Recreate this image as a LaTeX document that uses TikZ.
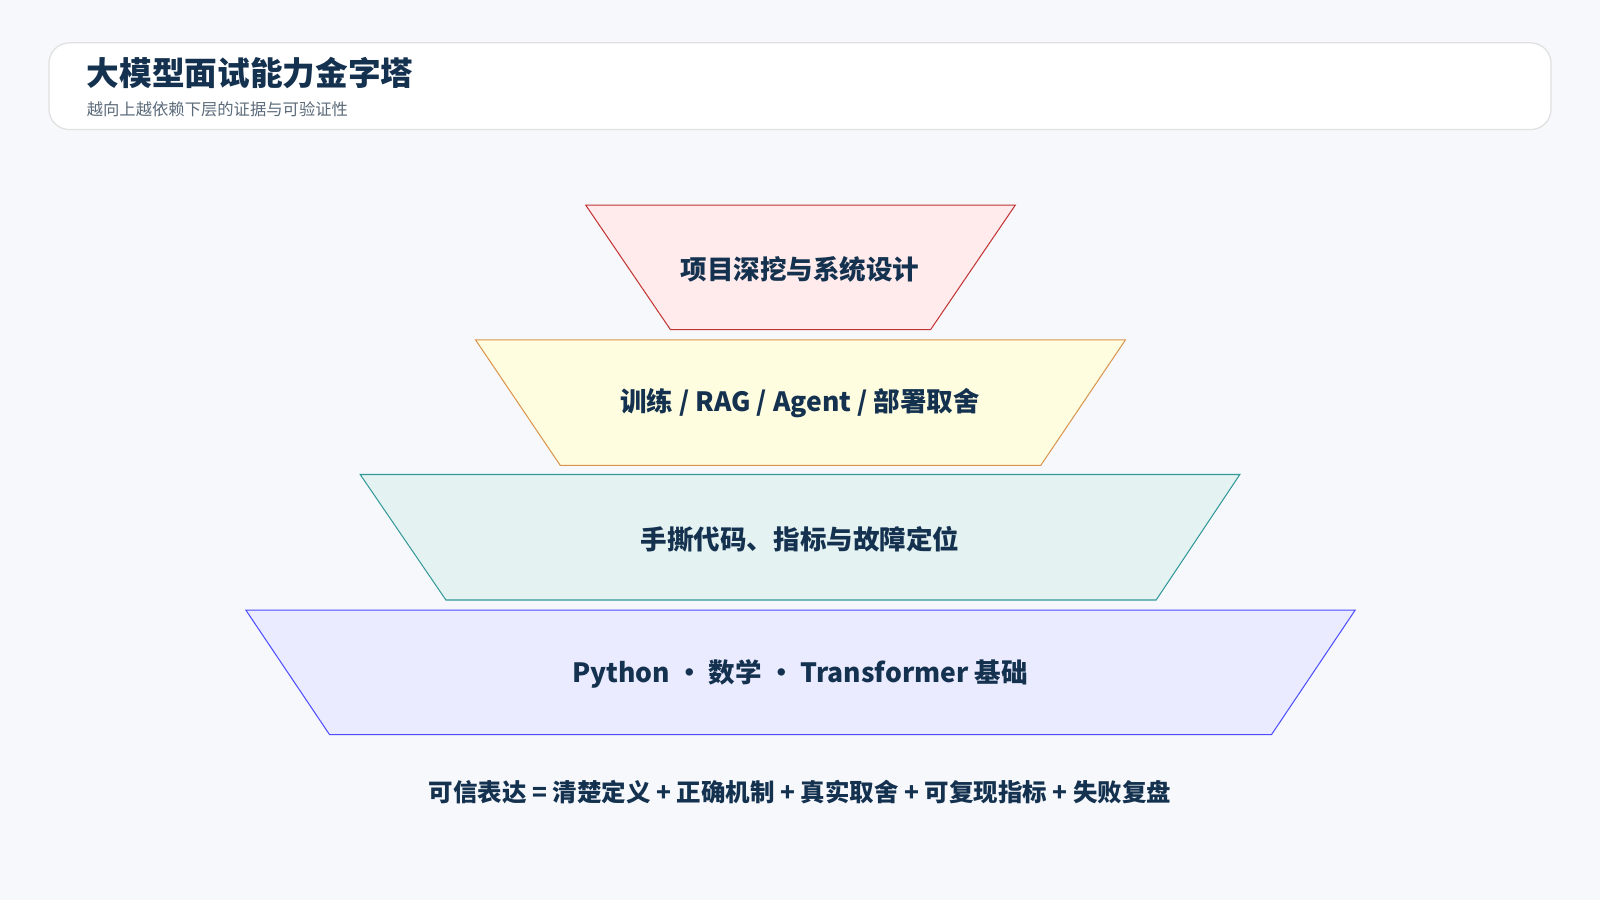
\documentclass[tikz,border=0pt]{standalone}
\usepackage{fontspec}
\setmainfont{Noto Sans CJK SC}
\usetikzlibrary{positioning}
\definecolor{bgc}{HTML}{F6F8FC}
\definecolor{ink}{HTML}{14324F}
\definecolor{sub}{HTML}{5C6B7A}
\tikzset{
    x=0.5pt,
    y=-0.5pt,
    layer/.style = {
        line width=0.5pt,
        line join=miter
    },
    label/.style = {
        font=\fontsize{13}{15}\selectfont\bfseries,
        text=ink
    },
}

\begin{document}
\begin{tikzpicture}
            \fill[bgc] (0,0) rectangle (1568,882);
            \useasboundingbox (0,0) rectangle (1568,882);
            % header
            \draw[fill=white, draw=black!12, line width=0.6pt, rounded corners=10pt] (48,42) rectangle (1520,127);
            \node[anchor=west, text=ink, font=\fontsize{16}{18}\selectfont\bfseries] (title) at (78,72) {大模型面试能力金字塔};
            \node[anchor=west, text=sub, font=\fontsize{8}{10}\selectfont] (subtitle) at (78,107) {越向上越依赖下层的证据与可验证性};
            % layers
            \draw[layer, draw=red!70!black!80, fill=red!8] (574,201) -- (995,201) -- (912,323) -- (657,323) -- cycle;
            \draw[layer, draw=orange!80!black!70, fill=orange!15!yellow!12] (466,333) -- (1103,333) -- (1020,456) -- (549,456) -- cycle;
            \draw[layer, draw=teal!80, fill=teal!10] (353,465) -- (1215,465) -- (1133,588) -- (437,588) -- cycle;
            \draw[layer, draw=blue!70, fill=blue!8] (241,598) -- (1328,598) -- (1246,720) -- (323,720) -- cycle;
            \node[label] (top) at (784,264) {项目深挖与系统设计};
            \node[label] (upper) at (784,395) {训练 / RAG / Agent / 部署取舍};
            \node[label] (lower) at (784,528) {手撕代码、指标与故障定位};
            \node[label] (base) at (784,660) {Python • 数学 • Transformer 基础};
            % formula
            \node[label, font=\fontsize{12}{14}\selectfont\bfseries] (formula) at (784,776) {可信表达 = 清楚定义 + 正确机制 + 真实取舍 + 可复现指标 + 失败复盘};
        \end{tikzpicture}
\end{document}
